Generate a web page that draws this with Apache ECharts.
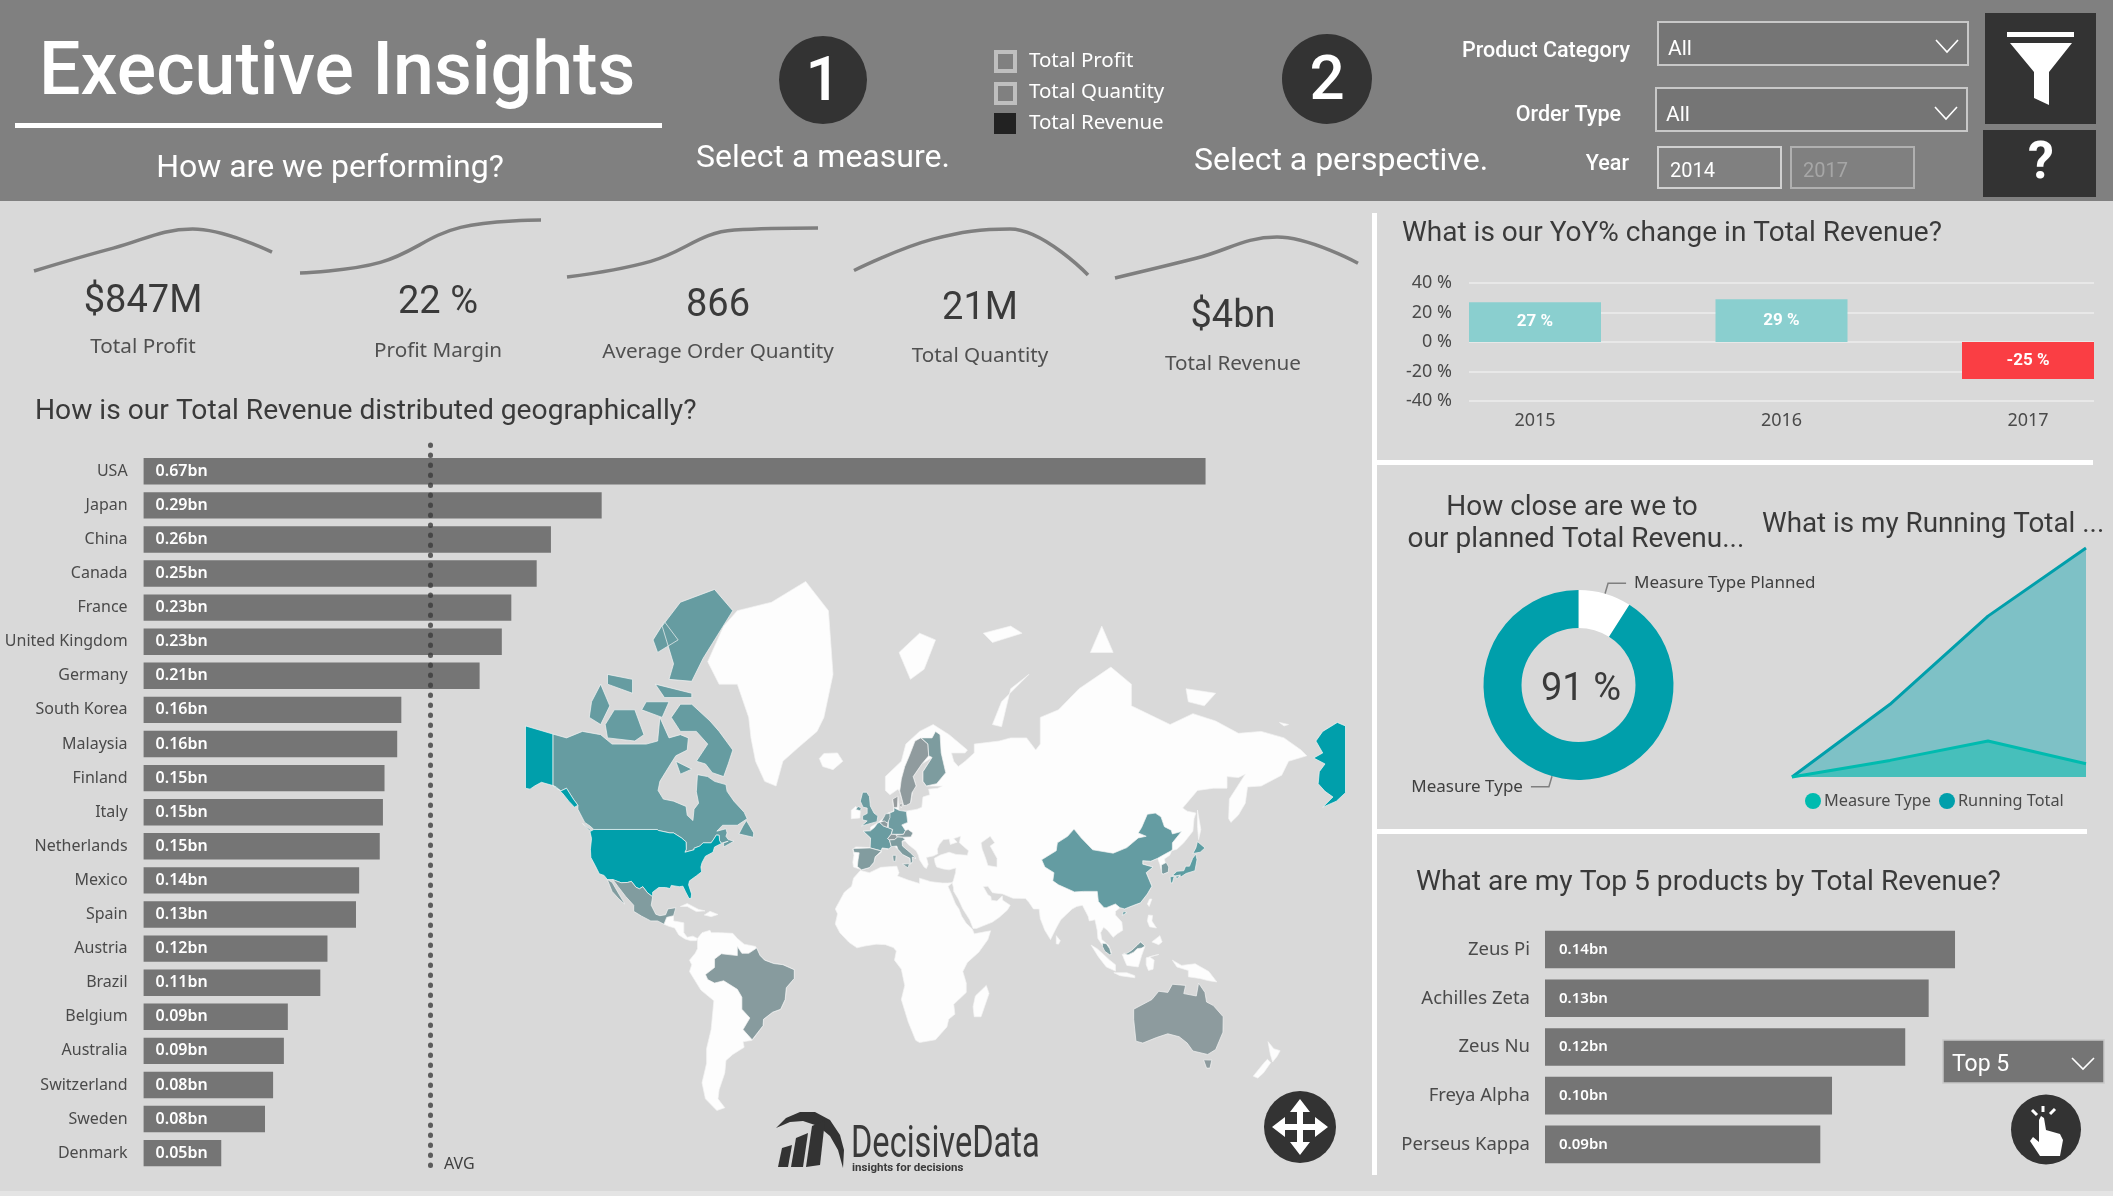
<!DOCTYPE html>
<html>
<head>
<meta charset="utf-8">
<title>Executive Insights</title>
<script src="https://cdn.jsdelivr.net/npm/echarts@6/dist/echarts.min.js"></script>
<style>
html,body{margin:0;padding:0;background:#D9D9D9;}
#main{width:2113px;height:1196px;}
</style>
</head>
<body>
<div id="main"></div>
<script>
// revenue by country (bn)
var countryNames = ['USA','Japan','China','Canada','France','United Kingdom','Germany','South Korea','Malaysia','Finland','Italy','Netherlands','Mexico','Spain','Austria','Brazil','Belgium','Australia','Switzerland','Sweden','Denmark'];
var countryValues = [0.67,0.289,0.257,0.248,0.232,0.226,0.212,0.1626,0.16,0.152,0.151,0.149,0.136,0.134,0.116,0.1115,0.091,0.0885,0.0817,0.0766,0.049];

// sparklines, one value per year
var sparkYears = ['2014','2015','2016','2017'];
var sparkProfit = [120,218,300,201];
var sparkMargin = [0.19,0.20,0.233,0.24];
var sparkOrderQty = [800,830,890,894];
var sparkQuantity = [4.2,5.85,6.4,3.96];
var sparkRevenue = [0.78,1.02,1.28,0.96];

// yoy
var yoyYears = ['2015','2016','2017'];
var yoyValues = [27,29,-25];

// planned vs actual
var donutNames = ['Measure Type Planned','Measure Type'];
var donutValues = [9,91];

// running total
var runningTotal = [0,1.27,2.81,4.0];
var measureType = [0,0.29,0.63,0.23];

// top 5
var productNames = ['Zeus Pi','Achilles Zeta','Zeus Nu','Freya Alpha','Perseus Kappa'];
var productValues = [0.14,0.131,0.123,0.098,0.094];

// rough lon,lat outlines, drawn through the mercator projection below
var landShapes = {
  Greenland:['-73,78.2 -66,81 -60,82 -45,82.5 -30,83.6 -20,82 -18,77 -22,72 -25,70 -33,67.5 -40,65 -43,60 -48,61 -52,65 -54,69 -55,72 -60,76 -68,76'],
  Iceland:['-24,65.5 -22,66.4 -16,66.5 -13.7,65 -18,63.4 -22.5,64'],
  Ireland:['-10,52 -6.2,52.2 -6,54 -8,55.2 -10,54.2'],
  Eurasia:[['-9.3,38.7 -9,37 -6,36.2 -5.5,36 -2,36.8 0,38.7 0.5,40.5 3.2,42 3.2,43.2 6,43 8.5,44.3 10.5,43 12.5,41.3 15.8,40 16,38 17,39 16.8,40.4 18.4,40 16,41.8 12.5,44 12.3,45.5 13.7,45.6 15,44.5 18.5,42.5 19.5,41 20,39.5 22,37 23,36.5 23.8,38 23,40.3 26,40.8 28,41.5 27.8,43 28.7,44.5 30.5,46 33,46.2 33.5,44.5 36.5,45.2 35,46.3 38,47 37.5,45 41.5,42.5 41,41 36,41.3 33,42 29.2,41.1 26.5,40 26.8,38.5 27.5,37 30.5,36.3 33,36 36,36.7 35.8,35 34.8,32 34.3,31.3 34.9,29.5 35,28 37,25 39,21 42,16.5 43.5,12.8 45,12.8 52,15.5 55,17.5 58.5,20.5 59.8,22.5 56.5,24.5 56.3,26.2 54,24.2 51.5,24.5 51.3,26 50,26.7 48,29.8 50,30 52,27.5 56.5,27 61,25.3 66.5,25.2 68,23.7 70,21 72.5,21 73,17 75,12 77.5,8 80,13 82,16.5 87,21 89,22 91.5,22.5 94,18 94.5,16 97,16.5 98,12 98.3,8.5 100.3,5.5 101.5,3 103.5,1.3 104.2,2.5 103,5.5 100,8 99.5,11 100.8,13.3 102.5,12 105,9 106.8,10.5 109.2,12 108.8,15.5 106,18.5 106,20 108,21.5 110,21 113.5,22.3 117,23.5 120,27 122,30 121,32 119.5,35 122.5,37 118,38 118,39.2 121.5,39 124.5,40 125.5,38 126.5,34.5 129,35.2 128,38 127.5,39.8 129.8,41 130.7,42.5 133,43 136,45 140,48.5 140.5,52 141.3,53.5 137.5,54 135.5,54.8 142,59 149,59.5 155,59.5 155,62 160,61.8 163,62.5 156,57 155.7,52 156.7,51 160,53 163,56 164,59.8 170,60 179,62.3 182,65 190,66 187.5,67 180,69 170,70 160,69.7 150,71.5 140,72.5 130,71 113,73.5 113,76 104,77.7 90,75.5 81,73 73,72 73,68 71,67 67,69 60,69 55,68.5 44,68 44,66.5 40,65 37,64 35,65 34,66.5 40,66.5 41,67 33,69.5 26,71 20,70 14,68 12,65 5,62 5,59 7,58 10.5,59.3 11.3,58.7 12.5,56.5 13,55.4 16,56 17,59 18.5,60 17.2,62 21,64.5 25.5,65.7 21.5,63 21.5,61 23,60 30,60 28,59.5 24,59.3 24.5,58 21.5,57.5 21,55 19,54.5 14,54 11,54 10.5,57.5 8.2,57 8.7,54 6,53.5 4,52 1.5,50.8 -1.5,49.7 -1.6,48.6 -4.7,48.5 -1.5,46.5 -1.5,43.5 -8,43.7 -9.3,43 -8.8,41','47,45 51,47 53,45 51,44 54,40 54,37 50,37.5 49,40 47.5,43']],
  CentralAmerica:['-92.2,14.6 -91,17.5 -88,18.2 -88,16 -83.5,15.2 -83.5,11 -82,9 -79.5,9.5 -77.5,8.5 -78,7.5 -80.5,7.5 -83,8.3 -85.7,10 -87.5,13 -90,13.7'],
  Caribbean:['-85,22 -82,23.2 -77,20.8 -74.2,20.2 -78,19.9 -82,22','-74.5,18.5 -72,20 -68.5,18.7 -71.5,17.8'],
  SouthAmerica:['-77.5,8.5 -75.5,11 -72,12 -71.5,11 -68,11 -62,10.7 -60,8.5 -57,6 -52,5 -50,1 -48,-1 -44,-2.5 -40,-3 -35,-5.2 -35,-9 -38.5,-13 -39,-18 -41,-22 -44.5,-23.2 -48.5,-26 -48.7,-28.5 -53.5,-34 -57.5,-34.5 -57,-36.5 -62,-39 -65,-41 -65.5,-45 -68,-50 -68.5,-52.5 -65.5,-54.8 -69,-55.5 -74,-52.5 -75.5,-48 -73.5,-42 -73.5,-37 -71.5,-30 -70.3,-18.5 -76,-14 -81,-6 -80,-3 -81,-1 -78.5,2 -77.5,4 -77.5,7'],
  Africa:['-6,35.8 -2,35 3,36.9 10,37.3 11,35 10.3,33.8 15,32.3 20,31 20,33 25,31.7 30,31.2 32.3,31.2 34.3,31.3 32.5,29.9 34,27 35.8,23 37.3,21 38.5,18 40.5,15 43.2,12.5 44,10.5 51.2,11.8 50,8 46,2.5 41,-2 39,-6 40.5,-11 40.5,-15 35,-20 35.5,-24 32.8,-26 32,-29 27,-33.8 20,-34.8 18.3,-34 15,-27 12,-18 13.5,-12 12,-5 9,-1 9.8,3 8.5,4.5 5,5.8 1,6 -4,5.2 -7.5,4.4 -11,6.8 -15,11 -17,14.7 -16,19 -17,21 -13,27.7 -9.8,30 -9,33'],
  Madagascar:['49.3,-12 50.5,-15.5 47,-25 44,-25 43.5,-21 44.5,-16.5'],
  NewZealand:['173,-34.5 175.5,-37 178.3,-37.7 177,-39.6 175,-41.5 174,-39','172.7,-40.6 174.2,-41.7 171,-45 168.5,-46.6 166.5,-46 171,-42'],
  Indonesia:['95.3,5.6 98,4 103.5,-1 106,-3 106,-5.8 102,-4 98.5,0.5','105.3,-6.5 111,-6.5 114.5,-7.8 114.5,-8.7 108,-7.8','109,1.5 111,1.8 113,3.2 115.5,5.5 117,7 119,5.2 117.5,1 116,-4 111,-3.3 110,-1','119.5,0 125,1.5 121,0.5 123,-1 122.5,-5 120.5,-5.5 119.5,-3','131,-1 135,-3.3 141,-2.6 147,-6 150.5,-10.5 147,-10 143,-9 138,-8.3 138,-5.5 133,-4'],
  Philippines:['120.5,18.5 122.3,18.3 122,16 124,13 121,13.5 120,16','122,7 125.5,9.7 126.5,7 125,5.8'],
  Islands:['80,9.7 81.8,7.5 81,6 80,6.2','121,25 122,25 120.8,22 120,23','142,54.3 143.5,49 142.5,46 142,50','11,79 20,80.5 27,80 22,77.5 16,76.5','52,71 56,74 68,77 60,75.5 56,70.7','48,80.5 60,81 65,80.5 52,79.8','95,79 105,79 100,81','137,75.5 150,75 145,73.5 138,74','178,71.3 182,71 180,70.8'],
  Canada:['-141,69.6 -135,69 -128,70 -120,69.5 -115,68 -108,68 -100,68 -95,68.5 -94,72 -90,69 -85,69.5 -81.5,69 -82,67 -87,66 -90,64 -94,61 -94.8,59 -92.5,57 -88,56.5 -82.5,55.2 -82,52.9 -79.5,51.5 -79,54.5 -77,56 -78,58.7 -77.5,62.4 -73,62 -70,61 -65,60.3 -64.5,58.8 -61.5,56.5 -57,53.7 -55.7,52 -60,50.2 -66.5,50.2 -69,48.5 -65,49.2 -64.5,48 -65,47 -64,46 -61.5,45.5 -66,43.7 -66,45 -64,45.5 -67,44.9 -67.8,45.7 -68,47.3 -69.2,47.4 -70.3,46.2 -71.5,45 -75,45 -76.5,44 -79,43.3 -79,42.8 -83,42 -82.4,43 -82.5,45.3 -84.5,46.5 -88,48 -89.6,48 -94.6,48.7 -95.2,49 -123,49 -124.7,50 -127,51 -130,54.5 -130,55.5 -132,57 -135,59.5 -137.5,58.9 -141,60.1','-80,73.7 -72,71.5 -68,70 -62,67 -64,64.5 -66,62 -71,62.8 -74,64.5 -78,65 -73,68 -78,70 -85,70 -89,72 -85,73.7','-117,69 -105,68.5 -101,69.5 -105,73 -114,73 -118,71','-125,72 -120,71 -116,73.5 -120,76 -124,74','-90,76.5 -80,76.3 -75,78.5 -62,82 -70,83.2 -85,82.5 -93,81 -88,78','-96,76 -80,75 -80,74.5 -92,74.5','-95,79 -86,80 -92,81.3 -97,80','-117,76 -106,75 -106,76.5 -117,77','-102,73 -93,72 -90,74 -100,74','-87,65 -80,63.5 -85,62.5','-59.3,47.7 -53,46.7 -52.8,48 -56,51.5 -57.5,50','-128,50.7 -123.5,48.4 -125,48.7'],
  USA:['-124.7,48.4 -123,49 -95.2,49 -94.6,48.7 -89.6,48 -88,48 -84.5,46.5 -82.5,45.3 -82.4,43 -83,42 -79,42.8 -79,43.3 -76.5,44 -75,45 -71.5,45 -70.3,46.2 -69.2,47.4 -68,47.3 -67.8,45.7 -67,44.8 -70,43.7 -70.7,42 -74,40.7 -75.5,38.5 -76,37 -75.7,35.3 -77.9,33.9 -81,32 -81.4,30.5 -80.1,27 -80.3,25.3 -81.2,25.2 -82.7,27.8 -83.9,30 -85.5,29.8 -89,30.3 -89.5,29.1 -91.5,29.5 -94.5,29.5 -97.2,27.7 -97.2,25.9 -99.5,27.5 -101.5,29.8 -103,29 -104.5,29.6 -106.5,31.8 -108.2,31.4 -111,31.3 -114.8,32.5 -117.1,32.5 -118.5,34 -120.6,34.6 -122.4,37.5 -124.3,40.3 -124.5,43 -124,46.3','-141,69.6 -153,70.8 -153,59.5 -151,59.3 -149,60 -146,60.8 -141,60.1','-141,60.1 -137.5,58.9 -135,59.5 -132,57 -130,55.5 -131.5,55 -134,56.5 -136.5,58.2 -139.5,59.8','207,70.8 203.4,71.3 197,70 194,68.5 197,66.5 193,65.6 198,64.5 195.5,63 195,60.5 198,58.8 201.5,57.5 197,55 203,56.5 207,58.5'],
  Mexico:['-114.8,32.5 -111,31.3 -108.2,31.4 -106.5,31.8 -104.5,29.6 -103,29 -101.5,29.8 -99.5,27.5 -97.2,25.9 -97.8,22.5 -95.8,18.8 -94,18.2 -91.5,18.6 -90.5,21 -87,21.5 -88,18.2 -91,17.5 -92.2,14.6 -95,16 -98,16 -102,18 -105.5,20 -105.5,22.5 -109,26 -112.5,30 -113.5,31.2','-117.1,32.5 -115,31.5 -112,27 -110,24 -109.5,23 -112,25 -115,28'],
  Brazil:['-60,5 -60,1 -67,1.8 -70,-0.5 -70,-4.2 -74,-7.3 -73,-9.5 -70,-11 -66,-10 -60,-13.7 -58,-17 -58,-22 -54.5,-25.5 -57.5,-30 -53.5,-33.8 -48.7,-28.5 -48.5,-26 -44.5,-23.2 -41,-22 -39,-18 -38.5,-13 -35,-9 -35,-5.2 -40,-3 -44,-2.5 -48,-1 -50,1 -51.5,4.3 -55,2 -58,2'],
  China:['73.6,39.5 80,42.5 80.5,45 85,47 87.8,49.1 91,46.5 96,42.8 105,41.7 111,43.5 116,46.5 119.5,47 116,48 117.5,49.6 120,53.2 123.5,53.5 126,52.5 127.5,49.8 130.5,48.8 131,47.7 135,48.4 131,45 131,43 130.5,42.5 128,41.5 124.5,40 121.5,39 118,39.2 118,38 122.5,37 119.5,35 121,32 122,30 120,27 117,23.5 113.5,22.3 110,21 108,21.5 106,23 102,21.5 101,21.5 98.5,24 98,28 92,28 88,27.8 81,30.5 78.5,32 79,35 75,37','109,18.3 111,19.5 109.5,20'],
  Japan:['131,34 135,33.6 137,34.7 140.9,35.7 141.8,39.5 141.3,41.4 139.9,40 138.5,37.3 136.8,37.3 136,35.7 133,35.5','140,41.6 143.2,42 145.3,43.4 142,45.4 141.3,43.4','130,33.5 131.8,33.7 131,31.2 130.2,31.3','132.5,33.8 134.5,34.2 134,33.4 132.8,32.8'],
  'South Korea':['126.2,37.7 128.3,38.6 129.4,37 129.2,35.2 127,34.5 126.3,34.8'],
  Malaysia:['100.3,6.4 102,6.2 103.5,4 104.2,1.5 103.4,1.4 101.3,2.9 100.3,5','109.6,2 111.5,1.3 114,2.5 115.5,4 117.5,4.3 119,5.2 117,7 115.5,5.5 113,3.2 111,2'],
  Australia:['114,-22 114,-26 115,-34.3 118,-35 124,-33 129,-31.6 134,-32.7 137.5,-35 140,-37.8 146.5,-39 150,-37.3 153.2,-31 153.3,-25 149,-20.5 146,-19 145.3,-15 142.5,-11 141.5,-16.5 136,-15.5 136.8,-12 131,-11.5 129,-15 125,-14.5 122,-18','144.7,-40.8 148.3,-40.9 147.5,-43.5 146,-43.5'],
  'United Kingdom':['-5.5,50 1.3,51.2 1.7,52.7 0,53.5 -1.6,55.3 -2,57.6 -3.2,58.6 -5,58.6 -6,56.5 -4.8,55 -3,54.8 -3,53.4 -5,52.8 -5,51.7 -3,51.4','-8,54.4 -6,54.1 -5.6,54.8 -7,55.2'],
  France:['-1.6,48.6 -4.7,48.5 -1.5,46.5 -1.7,43.4 3.1,42.5 3.6,43.4 6.5,43.1 7.6,43.8 6.8,45.8 6,46.3 7.5,47.6 8.2,49 6.3,49.5 4.2,50 2.5,51 1.6,50.8 0.2,49.6'],
  Spain:['-9.2,43.2 -1.7,43.4 3.2,42.4 0.5,40.5 0,38.7 -2,36.8 -5.5,36 -7.3,37.2 -7,39.5 -6.5,41.8 -8.8,42'],
  Germany:['6.3,51.5 6.9,53.5 8.8,54 8.7,54.9 11,54.2 14.2,53.9 14.8,51 12.2,50.3 13.8,48.7 13,47.6 7.6,47.6 8.2,49 6.3,49.5'],
  Netherlands:['3.4,51.4 6,50.8 7,52.3 7,53.4 5,53.3 4.7,52.8'],
  Belgium:['2.5,51 4.2,50 5.8,49.6 6.1,50.7 4.5,51.4'],
  Switzerland:['6,46.3 6.8,45.9 9,46 10.4,46.7 9.6,47.5 7.6,47.6'],
  Austria:['9.6,47.3 10.4,46.8 12.5,46.7 16.2,46.8 17.1,48 15,49 13.8,48.7 13,47.6'],
  Italy:['6.8,45.9 7.6,43.8 10,44 10.5,43 12.5,41.3 15.8,40 16,38 17,39 16.8,40.4 18.4,40 16,41.8 12.5,44 12.3,45.5 13.7,46 12.5,46.7 10.4,46.8 9,46','12.5,38 15.5,38.2 15,36.7','8.2,41 9.7,41 9.5,39 8.5,39'],
  Denmark:['8.2,57 10.5,57.7 10.3,55 8.7,54.9','11,55.7 12.5,55.9 12,54.8'],
  Sweden:['11.3,58.9 12.5,56.5 13,55.4 14.3,55.5 16,56 16.7,58.5 18.5,60 17.2,62 21,64.5 24,66 23.7,68 20.5,69 18,68.5 15.5,66 13.5,64 12,61.5'],
  Finland:['20.7,69 23.7,68 24,66 25.5,65.7 21.5,63 21.5,61 23,60 27.5,60.5 31.5,62.8 29.5,66.5 29,69.5 27,70 25.5,69']
};

var uiFont = 'Roboto';
var bodyFont = '"Noto Sans"';
var inkColor = '#3A3A3A';
var barGrey = '#757575';
var teal = '#009FAB';

function parseRing(s){
	return s.trim().split(/\s+/).map(function(p){ return p.split(',').map(Number); });
}
var worldJson = {type:'FeatureCollection',features:[]};
Object.keys(landShapes).forEach(function(name){
	var coords = landShapes[name].map(function(poly){
		return (typeof poly === 'string' ? [poly] : poly).map(function(r){
			var ring = parseRing(r);
			ring.push(ring[0]);
			return ring;
		});
	});
	worldJson.features.push({type:'Feature',properties:{name:name},geometry:{type:'MultiPolygon',coordinates:coords}});
});
echarts.registerMap('world', worldJson);

function mercProject(p){
	var y = Math.log(Math.tan(Math.PI/4 + p[1]*Math.PI/360)) * 180/Math.PI;
	return [p[0], -y];
}
function mercUnproject(p){
	return [p[0], (2*Math.atan(Math.exp(-p[1]*Math.PI/180)) - Math.PI/2) * 180/Math.PI];
}

var mainChart = echarts.init(document.getElementById('main'));

// graphic helpers
var gfx = [];
function rect(x,y,w,h,fill,stroke,lw){
	gfx.push({type:'rect',silent:true,shape:{x:x,y:y,width:w,height:h},style:{fill:fill,stroke:stroke||null,lineWidth:lw||0}});
}
function circle(x,y,r,fill){
	gfx.push({type:'circle',silent:true,shape:{cx:x,cy:y,r:r},style:{fill:fill}});
}
function poly(pts,fill){
	gfx.push({type:'polygon',silent:true,shape:{points:pts},style:{fill:fill}});
}
function line(pts,stroke,lw){
	gfx.push({type:'polyline',silent:true,shape:{points:pts},style:{stroke:stroke,lineWidth:lw,fill:null}});
}
function text(x,y,s,size,fill,align,font,weight){
	gfx.push({type:'text',silent:true,x:x,y:y,style:{text:s,fontSize:size,fill:fill,textAlign:align||'center',textVerticalAlign:'middle',fontFamily:font||uiFont,fontWeight:weight||'normal'}});
}
function chevron(x1,x2,y1,y2){
	line([[x1,y1],[(x1+x2)/2,y2],[x2,y1]],'#FFFFFF',1.6);
}

// header
rect(0,0,2113,201,'#808080');
text(39,76,'Executive Insights',73.5,'#FFFFFF','left',uiFont,500);
rect(15,123,647,5,'#FFFFFF');
text(330,169,'How are we performing?',32,'#FFFFFF');
circle(823,80,44,'#333333');
text(823,84,'1',62,'#FFFFFF','center',uiFont,500);
text(823,159,'Select a measure.',32,'#FFFFFF');
rect(996,52,19,19,'#808080','#BFBFBF',4);
rect(996,84,19,19,'#808080','#BFBFBF',4);
rect(994,113,22,21,'#222222');
text(1029,61,'Total Profit',20.5,'#FFFFFF','left',bodyFont);
text(1029,92,'Total Quantity',20.5,'#FFFFFF','left',bodyFont);
text(1029,123,'Total Revenue',20.5,'#FFFFFF','left',bodyFont);
circle(1327,79,45,'#333333');
text(1327,83,'2',62,'#FFFFFF','center',uiFont,500);
text(1341,162,'Select a perspective.',32,'#FFFFFF');
text(1630,52,'Product Category',21.5,'#FFFFFF','right',uiFont,500);
text(1621,116,'Order Type',21.5,'#FFFFFF','right',uiFont,500);
text(1629,165,'Year',21.5,'#FFFFFF','right',uiFont,500);
rect(1658,22,310,43,'#757575','#C8C8C8',2);
text(1668,50,'All',21,'#FFFFFF','left');
chevron(1936,1958,40,52);
rect(1656,88,311,43,'#757575','#C8C8C8',2);
text(1666,116,'All',21,'#FFFFFF','left');
chevron(1935,1957,107,119);
rect(1658,147,123,41,'#808080','#D0D0D0',2);
text(1670,172,'2014',20,'#FFFFFF','left');
rect(1791,147,123,41,'#808080','#B0B0B0',2);
text(1803,172,'2017',20,'#A6A6A6','left');
rect(1985,13,111,111,'#333333');
rect(2007,32,67,5,'#FFFFFF');
poly([[2010,43],[2072,43],[2049,72],[2049,105],[2034,98],[2034,72]],'#FFFFFF');
rect(1983,130,113,67,'#333333');
text(2041,165,'?',52,'#FFFFFF','center',uiFont,700);

// dividers
rect(1372,213,5,962,'#FFFFFF');
rect(1377,460,716,5,'#FFFFFF');
rect(1377,829,710,5,'#FFFFFF');
rect(0,1191,2113,5,'#E4E4E4');

// kpis
var kpis = [[143,302,'$847M',347,'Total Profit'],[438,303,'22 %',351,'Profit Margin'],[718,306,'866',352,'Average Order Quantity'],[980,309,'21M',356,'Total Quantity'],[1233,317,'$4bn',364,'Total Revenue']];
kpis.forEach(function(k){
	text(k[0],k[1],k[2],38,inkColor);
	text(k[0],k[3],k[4],20.7,'#505050','center',bodyFont);
});

// titles
text(35,412,'How is our Total Revenue distributed geographically?',28.2,inkColor,'left');
text(1402,234,'What is our YoY% change in Total Revenue?',28,inkColor,'left');
text(1572,508,'How close are we to',28,inkColor);
text(1576,540,'our planned Total Revenu...',28,inkColor);
text(1762,525,'What is my Running Total ...',27.8,inkColor,'left');
text(1416,883,'What are my Top 5 products by Total Revenue?',28.2,inkColor,'left');
text(444,1164,'AVG',16,'#404040','left',bodyFont);
text(1581,690,'91 %',38,inkColor);

// top 5 dropdown and hand button
rect(1943,1040,161,43,'#757575','#C8C8C8',1.5);
text(1952,1065,'Top 5',23,'#FFFFFF','left');
chevron(2072,2094,1058,1069);
circle(2046,1129.5,35,'#333333');
poly([[2039,1120],[2041,1116],[2044,1118],[2046,1130],[2060,1134],[2063,1140],[2060,1156],[2040,1156],[2030,1141],[2033,1137],[2039,1142]],'#FFFFFF');
line([[2032,1110],[2037,1115]],'#FFFFFF',3);
line([[2043,1106],[2043,1112]],'#FFFFFF',3);
line([[2055,1109],[2050,1114]],'#FFFFFF',3);

// move button
circle(1300,1127,36,'#333333');
[0,90,180,270].forEach(function(deg){
	var a = deg*Math.PI/180;
	function rot(u,v){ return [1300+u*Math.cos(a)-v*Math.sin(a),1127+u*Math.sin(a)+v*Math.cos(a)]; }
	poly([rot(-1,-3),rot(15,-3),rot(15,-10),rot(28,0),rot(15,10),rot(15,3),rot(-1,3)],'#FFFFFF');
});

// logo
poly([[776,1128],[786,1118],[800,1112],[815,1112],[830,1120],[840,1135],[844,1150],[843,1168],[838,1150],[830,1136],[818,1126],[803,1121],[790,1122]],'#333333');
poly([[782,1148],[792,1145],[788,1167],[778,1167]],'#333333');
poly([[796,1138],[808,1133],[803,1167],[791,1167]],'#333333');
poly([[812,1126],[825,1120],[820,1165],[806,1167]],'#333333');
gfx.push({type:'text',silent:true,x:851,y:1146,scaleX:0.74,style:{text:'DecisiveData',fontSize:44,fill:'#3A3A3A',textAlign:'left',textVerticalAlign:'middle',fontFamily:uiFont}});
text(852,1168,'insights for decisions',11.5,'#3A3A3A','left',uiFont,700);

// sparklines
var grids = [], xAxes = [], yAxes = [], seriesList = [];
var axisIdx = 0;
function addSpark(values,x,y,w,h){
	grids.push({left:x,top:y,width:w,height:h});
	xAxes.push({type:'category',gridIndex:axisIdx,show:false,boundaryGap:false,data:sparkYears});
	yAxes.push({type:'value',gridIndex:axisIdx,show:false,min:Math.min.apply(null,values),max:Math.max.apply(null,values)});
	seriesList.push({type:'line',xAxisIndex:axisIdx,yAxisIndex:axisIdx,data:values,smooth:0.4,symbol:'none',lineStyle:{color:'#7F7F7F',width:3.5},silent:true,clip:false});
	axisIdx++;
}
addSpark(sparkProfit,34,229,238,42);
addSpark(sparkMargin,300,220,241,53);
addSpark(sparkOrderQty,567,228,251,49);
addSpark(sparkQuantity,854,229,234,46);
addSpark(sparkRevenue,1115,237,243,41);

// country bars
var avgValue = countryValues.reduce(function(a,b){return a+b;},0)/countryValues.length;
function bnLabel(p){ return p.value.toFixed(2)+'bn'; }
grids.push({left:143.6,top:454.2,width:1109.5,height:716});
xAxes.push({type:'value',gridIndex:axisIdx,min:0,max:0.7,show:false});
yAxes.push({type:'category',gridIndex:axisIdx,inverse:true,data:countryNames,axisLine:{show:false},axisTick:{show:false},axisLabel:{margin:16,fontSize:16,color:'#4A4A4A',fontFamily:bodyFont,padding:[4,0,0,0]}});
seriesList.push({type:'bar',xAxisIndex:axisIdx,yAxisIndex:axisIdx,data:countryValues,barWidth:26.4,itemStyle:{color:barGrey},silent:true,
	label:{show:true,position:'insideLeft',distance:12,formatter:bnLabel,color:'#FFFFFF',fontSize:16,fontWeight:600,fontFamily:bodyFont,padding:[6,0,0,0]},
	markLine:{silent:true,symbol:'none',label:{show:false},lineStyle:{color:'rgba(60,60,60,0.8)',width:5,type:[0.5,9.5],cap:'round'},data:[[{xAxis:avgValue,y:445},{xAxis:avgValue,y:1174}]]}
});
axisIdx++;

// yoy - gridlines
grids.push({left:1469,top:283,width:625,height:118});
xAxes.push({type:'category',gridIndex:axisIdx,show:false,data:yoyYears});
yAxes.push({type:'value',gridIndex:axisIdx,min:-40,max:40,interval:20,axisLine:{show:false},axisTick:{show:false},
	axisLabel:{margin:17,fontSize:18,color:'#4A4A4A',fontFamily:bodyFont,formatter:'{value} %',padding:[4,0,0,0]},splitLine:{lineStyle:{color:'#E8E8E8',width:2}}});
axisIdx++;
// yoy - bars, centred on ticks so first and last bars sit flush with the gridlines
grids.push({left:1535,top:283,width:493,height:118});
xAxes.push({type:'category',gridIndex:axisIdx,boundaryGap:false,data:yoyYears,axisLine:{show:false,onZero:false},axisTick:{show:false},axisLabel:{margin:11,fontSize:18,color:'#4A4A4A',fontFamily:bodyFont}});
yAxes.push({type:'value',gridIndex:axisIdx,min:-40,max:40,show:false});
seriesList.push({type:'bar',xAxisIndex:axisIdx,yAxisIndex:axisIdx,barWidth:132,clip:false,silent:true,
	data:yoyValues.map(function(v){ return {value:v,itemStyle:{color:v>0?'#8ACFCF':'#FA3E44'}}; }),
	label:{show:true,position:'inside',formatter:'{c} %',color:'#FFFFFF',fontSize:17,fontWeight:700,fontFamily:uiFont,padding:[7,0,0,0]}});
axisIdx++;

// running total
grids.push({left:1792,top:548,width:294,height:229});
xAxes.push({type:'category',gridIndex:axisIdx,show:false,boundaryGap:false,data:sparkYears});
yAxes.push({type:'value',gridIndex:axisIdx,show:false,min:0,max:4});
seriesList.push({name:'Running Total',type:'line',xAxisIndex:axisIdx,yAxisIndex:axisIdx,data:runningTotal,symbol:'none',silent:true,clip:false,
	itemStyle:{color:teal},lineStyle:{color:teal,width:3},areaStyle:{color:teal,opacity:0.42}});
seriesList.push({name:'Measure Type',type:'line',xAxisIndex:axisIdx,yAxisIndex:axisIdx,data:measureType,symbol:'none',silent:true,clip:false,
	itemStyle:{color:'#00BBAF'},lineStyle:{color:'#00BBAF',width:3},areaStyle:{color:'#00BBAF',opacity:0.43}});
axisIdx++;

// top 5
grids.push({left:1545,top:925.2,width:468.6,height:243.5});
xAxes.push({type:'value',gridIndex:axisIdx,min:0,max:0.16,show:false});
yAxes.push({type:'category',gridIndex:axisIdx,inverse:true,data:productNames,axisLine:{show:false},axisTick:{show:false},axisLabel:{margin:15,fontSize:18.5,color:'#4A4A4A',fontFamily:bodyFont,padding:[5,0,0,0]}});
seriesList.push({type:'bar',xAxisIndex:axisIdx,yAxisIndex:axisIdx,data:productValues,barWidth:37.6,itemStyle:{color:barGrey},silent:true,
	label:{show:true,position:'insideLeft',distance:14,formatter:bnLabel,color:'#FFFFFF',fontSize:15,fontWeight:600,fontFamily:bodyFont,padding:[6,0,0,0]}});
axisIdx++;

// donut
seriesList.push({type:'pie',center:[1578.5,685],radius:[57,95],startAngle:90,silent:true,
	data:donutNames.map(function(n,i){ return {name:n,value:donutValues[i],itemStyle:{color:i==0?'#FFFFFF':teal}}; }),
	label:{show:true,formatter:'{b}',fontSize:17,color:'#404040',fontFamily:bodyFont,distanceToLabelLine:8},
	labelLine:{show:true,length:11,length2:18,lineStyle:{color:'#7F7F7F',width:1.5}}
});

// map
seriesList.push({type:'map',map:'world',projection:{project:mercProject,unproject:mercUnproject},
	boundingCoords:[[-153,83.6],[207,-56]],layoutCenter:[935.5,847],layoutSize:820,
	roam:false,silent:true,selectedMode:false,showLegendSymbol:false,label:{show:false},
	itemStyle:{areaColor:'#FDFDFD',borderColor:'#F4F4F4',borderWidth:0.7},
	data:countryNames.map(function(n,i){ return {name:n,value:countryValues[i]}; })
});

var option = {
	animation:false,
	backgroundColor:'#D9D9D9',
	grid:grids,
	xAxis:xAxes,
	yAxis:yAxes,
	legend:{data:['Measure Type','Running Total'],left:1800,top:788,icon:'circle',itemWidth:16,itemHeight:16,itemGap:8,selectedMode:false,
		textStyle:{fontSize:16.3,color:'#4A4A4A',fontFamily:bodyFont,padding:[0,0,0,-2]}},
	visualMap:{show:false,seriesIndex:seriesList.length-1,min:0.05,max:0.67,inRange:{color:['#969B9D',teal]}},
	graphic:{elements:gfx},
	series:seriesList
};
mainChart.setOption(option);
</script>
</body>
</html>
